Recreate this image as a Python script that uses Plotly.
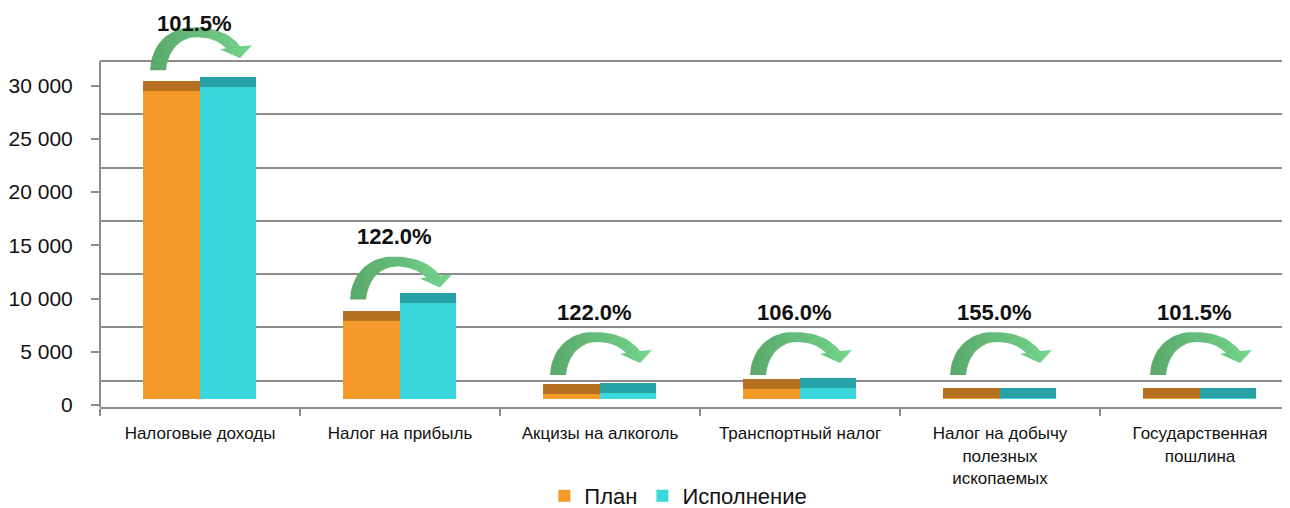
import plotly.graph_objects as go

# -------------------- Данные --------------------
kategorii = ['Налоговые доходы', 'Налог на прибыль', 'Акцизы на алкоголь',
             'Транспортный налог', 'Налог на добычу<br>полезных<br>ископаемых',
             'Государственная<br>пошлина']
plan = [28920, 7370, 480, 940, 60, 120]
ispolnenie = [29354, 8990, 586, 996, 93, 122]
procent = ['101.5%', '122.0%', '122.0%', '106.0%', '155.0%', '101.5%']
y_ticks = [0, 5000, 10000, 15000, 20000, 25000, 30000]
y_tick_text = ['0', '5 000', '10 000', '15 000', '20 000', '25 000', '30 000']

# -------------------- Оформление --------------------
FONT = 'Liberation Sans Narrow, Arial Narrow, Liberation Sans, Arial'
K = 319.3 / 30000          # пикселей на единицу по оси Y
PX_X = 200                 # пикселей на категорию
Y_RANGE = [-2 / K, 397 / K]
FRONT = 6 / K              # «глубина» 3D: низ передней грани
TOP = 10 / K               # высота верхней грани
SHIFT = 24.5 / K           # сдвиг задней стенки (сетка)
W = 0.283

ORANGE, ORANGE_D = '#F39A29', '#B5711F'
CYAN, CYAN_D = '#3AD8DC', '#27A2A6'
GRID = '#8C8C8C'

x = list(range(len(kategorii)))
fig = go.Figure()

# сетка на «задней стенке» - отдельная ось
fig.add_trace(go.Scatter(x=[], y=[], yaxis='y2', showlegend=False, hoverinfo='skip'))

for vals, col, col_d, name, off in [(plan, ORANGE, ORANGE_D, 'План', -0.285),
                                    (ispolnenie, CYAN, CYAN_D, 'Исполнение', -0.002)]:
    # передняя грань
    fig.add_trace(go.Bar(x=x, y=vals, base=[FRONT] * len(vals), name=name,
                         marker=dict(color=col, line=dict(width=0)),
                         width=W, offset=off))
    # верхняя грань
    fig.add_trace(go.Bar(x=x, y=[TOP] * len(vals), base=[FRONT + v for v in vals],
                         marker=dict(color=col_d, line=dict(width=0)),
                         width=W, offset=off, showlegend=False, hoverinfo='skip'))


# -------------------- Изогнутые стрелки --------------------
def bez(p0, p1, p2, p3, n=16):
    pts = []
    for j in range(n + 1):
        t = j / n
        a, b, c, d = (1 - t) ** 3, 3 * (1 - t) ** 2 * t, 3 * (1 - t) * t ** 2, t ** 3
        pts.append((a * p0[0] + b * p1[0] + c * p2[0] + d * p3[0],
                    a * p0[1] + b * p1[1] + c * p2[1] + d * p3[1]))
    return pts


arrow = (bez((-50, 0), (-49, 25), (-32, 43), (-7, 43))
         + bez((-7, 43), (12, 43), (30, 38), (40, 24))
         + [(52, 25), (40, 12), (20, 21), (26, 22)]
         + bez((26, 22), (18, 30), (8, 33), (-3, 33))
         + bez((-3, 33), (-20, 33), (-32, 20), (-34, 0)))

FLOOR = 30 / K   # нижний уровень стрелок для маленьких столбцов
for i, (p, txt) in enumerate(zip(plan, procent)):
    y_base = FRONT + p + TOP + 11 / K if p > 5000 else FLOOR
    fig.add_trace(go.Scatter(
        x=[i + dx / PX_X for dx, dy in arrow],
        y=[y_base + dy / K for dx, dy in arrow],
        mode='lines', fill='toself', line=dict(width=0, color='#66bb7a'),
        fillgradient=dict(type='horizontal',
                          colorscale=[[0, '#5AA86B'], [1, '#74D48B']]),
        showlegend=False, hoverinfo='skip'))
    y_lab = min(y_base + 63 / K, 382 / K)
    fig.add_annotation(x=i - 0.03, y=y_lab, text='<b>' + txt + '</b>', showarrow=False,
                       font=dict(family=FONT, size=22, color='#111111'))

# ось Y (линия от пола до верхней линии сетки)
fig.add_shape(type='line', xref='paper', x0=0, x1=0, yref='y', y0=Y_RANGE[0],
              y1=30000 + SHIFT, line=dict(color=GRID, width=2))

fig.update_layout(
    width=1282, height=500,
    margin=dict(l=92, r=0, t=0, b=101, autoexpand=False),
    plot_bgcolor='white', paper_bgcolor='white',
    barmode='overlay', bargap=0,
    font=dict(family=FONT, color='#111111'),
    xaxis=dict(range=[-0.5, 5.45], tickvals=x, ticktext=kategorii, ticks='',
               showline=True, linecolor=GRID, linewidth=2, showgrid=False, zeroline=False,
               automargin=False, tickfont=dict(size=17), ticklabelstandoff=10,
               minor=dict(tickvals=[i - 0.5 for i in x], ticks='outside', ticklen=7,
                          tickcolor=GRID, tickwidth=2)),
    yaxis=dict(range=Y_RANGE, tickvals=y_ticks, ticktext=y_tick_text, showgrid=False,
               zeroline=False, showline=False, ticks='outside', ticklen=8, automargin=False,
               tickcolor=GRID, tickwidth=2, tickfont=dict(size=21), ticklabelstandoff=14),
    yaxis2=dict(range=[Y_RANGE[0] - SHIFT, Y_RANGE[1] - SHIFT], overlaying='y',
                tickvals=y_ticks, showticklabels=False, showgrid=True, gridcolor=GRID,
                gridwidth=2, zeroline=False, ticks='', automargin=False),
    legend=dict(orientation='h', x=0.486, xanchor='center', y=-0.17, yanchor='top',
                font=dict(size=22), bgcolor='rgba(0,0,0,0)'),
)

fig.write_html('out.html')
